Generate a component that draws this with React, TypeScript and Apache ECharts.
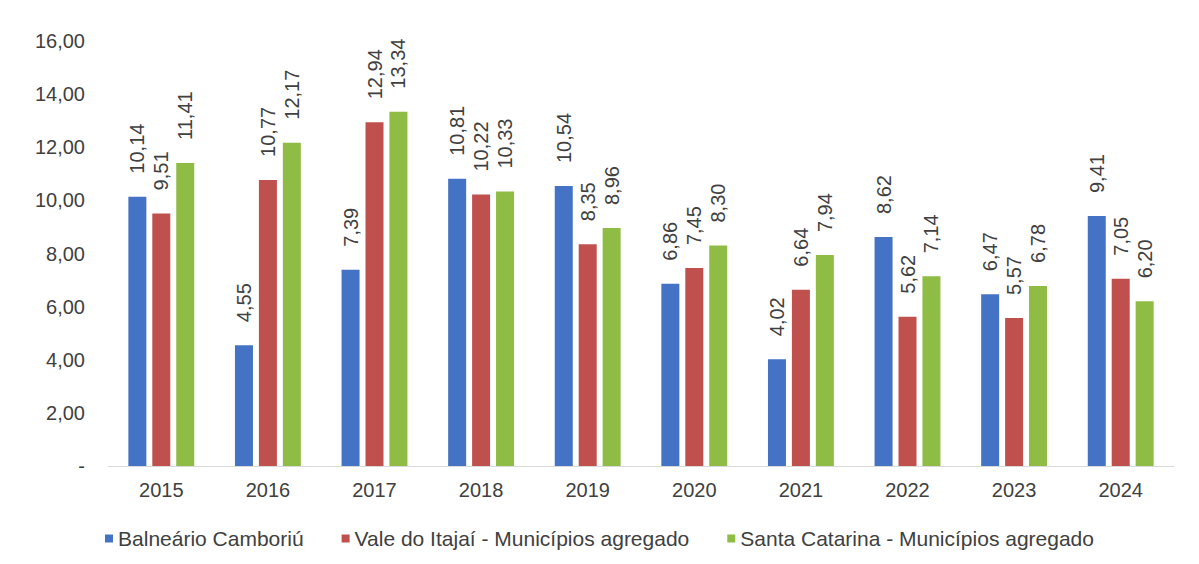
import React, { useEffect, useRef } from "react";
import * as echarts from "echarts";

const categories = ["2015", "2016", "2017", "2018", "2019", "2020", "2021", "2022", "2023", "2024"];
const balneario = [10.14, 4.55, 7.39, 10.81, 10.54, 6.86, 4.02, 8.62, 6.47, 9.41];
const valeItajai = [9.51, 10.77, 12.94, 10.22, 8.35, 7.45, 6.64, 5.62, 5.57, 7.05];
const santaCatarina = [11.41, 12.17, 13.34, 10.33, 8.96, 8.3, 7.94, 7.14, 6.78, 6.2];
const seriesNames = [
  "Balneário Camboriú",
  "Vale do Itajaí - Municípios agregado",
  "Santa Catarina - Municípios agregado",
];
const colors = ["#4472C4", "#C0504D", "#8FBC45"];

const fmt = (v: number) => v.toFixed(2).replace(".", ",");

export default function App() {
  const ref = useRef<HTMLDivElement>(null);
  useEffect(() => {
    document.body.style.margin = "0";
    const chart = echarts.init(ref.current!, undefined, { renderer: "svg" });
    const font = "'Liberation Sans', Arial, sans-serif";
    const mk = (name: string, data: number[], color: string) => ({
      name,
      type: "bar",
      data,
      barWidth: 18,
      barGap: "33%",
      itemStyle: { color },
      label: {
        show: true,
        position: "top",
        rotate: 90,
        align: "left",
        verticalAlign: "middle",
        distance: 23,
        color: "#404040",
        fontSize: 20,
        fontFamily: font,
        formatter: (p: any) => fmt(p.value),
      },
    });
    chart.setOption({
      animation: false,
      backgroundColor: "#ffffff",
      textStyle: { fontFamily: font },
      grid: { left: 108, right: 25, top: 41, bottom: 98 },
      legend: {
        bottom: 10,
        left: "center",
        itemWidth: 8,
        itemHeight: 8,
        itemGap: 38,
        icon: "rect",
        textStyle: { color: "#404040", fontSize: 21, fontFamily: font },
        data: seriesNames,
      },
      xAxis: {
        type: "category",
        data: categories,
        axisLine: { lineStyle: { color: "#D9D9D9" } },
        axisTick: { show: false },
        axisLabel: { color: "#404040", fontSize: 20, fontFamily: font, margin: 14 },
      },
      yAxis: {
        type: "value",
        min: 0,
        max: 16,
        interval: 2,
        splitLine: { show: false },
        axisLine: { show: false },
        axisTick: { show: false },
        axisLabel: {
          color: "#404040",
          fontSize: 20,
          fontFamily: font,
          margin: 23,
          formatter: (v: number) => (v === 0 ? "-" : fmt(v)),
        },
      },
      series: [
        mk(seriesNames[0], balneario, colors[0]),
        mk(seriesNames[1], valeItajai, colors[1]),
        mk(seriesNames[2], santaCatarina, colors[2]),
      ],
    });
    return () => chart.dispose();
  }, []);
  return <div ref={ref} style={{ width: 1199, height: 564 }} />;
}
